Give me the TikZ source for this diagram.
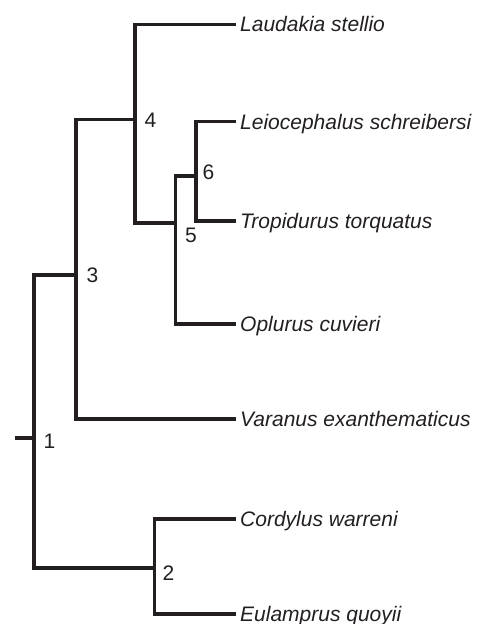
\documentclass[tikz,border=0pt]{standalone}
\usepackage{fontspec}
\setmainfont{Liberation Sans}
\definecolor{ink}{RGB}{35,31,32}
\begin{document}
\begin{tikzpicture}[x=1pt,y=-1pt,
  br/.style={line width=3.6pt, draw=ink, line join=miter},
  leaf/.style={anchor=west, inner xsep=4pt, inner ysep=0pt, font=\fontsize{21}{25}\selectfont\itshape, text height=15pt, text depth=0pt, text=ink},
  lab/.style={anchor=west, inner sep=0pt, font=\fontsize{21}{25}\selectfont, text height=15pt, text depth=0pt, text=ink}]
\useasboundingbox (0,0) rectangle (477,624);
% internal nodes
\coordinate (root) at (15,438);
\coordinate (n1) at (34,438);
\coordinate (n3) at (76,275);
\coordinate (n4) at (135.2,119.5);
\coordinate (n5) at (175.5,222.7);
\coordinate (n6) at (196,176);
\coordinate (n2) at (154.3,568);
% leaves
\node[leaf] (laud) at (236,24.3) {Laudakia stellio};
\node[leaf] (leio) at (236,121.6) {Leiocephalus schreibersi};
\node[leaf] (trop) at (236,221) {Tropidurus torquatus};
\node[leaf] (oplu) at (236,324) {Oplurus cuvieri};
\node[leaf] (vara) at (236,418.7) {Varanus exanthematicus};
\node[leaf] (cord) at (236,519) {Cordylus warreni};
\node[leaf] (eula) at (236,614) {Eulamprus quoyii};
% labels
\node[lab] (l1) at (43.4,440.5) {1};
\node[lab] (l2) at (162.5,572.5) {2};
\node[lab] (l3) at (86.4,274.5) {3};
\node[lab] (l4) at (144.5,119.5) {4};
\node[lab] (l5) at (185,235) {5};
\node[lab] (l6) at (202.5,171.7) {6};
% branches
\draw[br] (root) -- (n1);
\draw[br] (n1) |- (n3);
\draw[br] (n1) |- (n2);
\draw[br] (n3) |- (n4);
\draw[br] (n3) |- (vara.west);
\draw[br] (n4) |- (laud.west);
\draw[br] (n4) |- (n5);
\draw[br] (n5) |- (n6);
\draw[br] (n5) |- (oplu.west);
\draw[br] (n6) |- (leio.west);
\draw[br] (n6) |- (trop.west);
\draw[br] (n2) |- (cord.west);
\draw[br] (n2) |- (eula.west);
\end{tikzpicture}
\end{document}
